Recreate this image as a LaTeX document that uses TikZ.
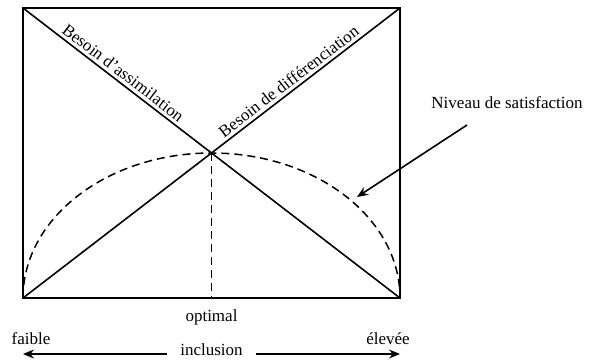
\documentclass[tikz,border=0pt]{standalone}
\usepackage{fontspec}
\setmainfont{Liberation Serif}
\usepackage{tikz}
\usetikzlibrary{arrows.meta,positioning,calc}

\begin{document}
\begin{tikzpicture}[x=1pt,y=1pt,line width=1.6pt,
  txt/.style={font=\fontsize{17}{20}\selectfont,inner sep=1pt},
  arr/.style={-{Stealth[length=11pt,width=9pt]}},
  dsh/.style={dash pattern=on 8pt off 5pt}]
  \useasboundingbox (0,0) rectangle (595,360);
  % corners of the frame
  \coordinate (tl) at (23,352);
  \coordinate (tr) at (400,352);
  \coordinate (bl) at (23,62);
  \coordinate (br) at (400,62);
  \coordinate (opt) at (211.5,207);
  \draw[line width=1.3pt] (bl) rectangle (tr);
  \draw (tl) -- node[txt,sloped,above,inner sep=3pt,pos=0.25] {Besoin d'assimilation} (br);
  \draw (bl) -- node[txt,sloped,above,inner sep=3pt,pos=0.72] {Besoin de différenciation} (tr);
  % satisfaction curve
  \draw[dsh,line width=1.5pt] (bl) arc[start angle=180,end angle=0,x radius=188.5,y radius=145];
  \draw[dsh,line width=1.5pt] (opt) -- (opt |- bl);
  \node[txt] (niv) at (507,257) {Niveau de satisfaction};
  \coordinate (nivfrom) at (467,235);
  \coordinate (nivto) at (357,163);
  \draw[arr] (nivfrom) -- (nivto);
  % axis
  \node[txt] (optimal) at (211.5,43) {optimal};
  \node[txt] (incl) at (211.5,10) {inclusion};
  \node[txt] (faible) at (31,21) {faible};
  \node[txt] (elevee) at (388,21) {élevée};
  \coordinate (lo) at (23,6);
  \coordinate (hi) at (400,6);
  \draw[arr] ([xshift=-12pt]incl.west |- lo) -- (lo);
  \draw[arr] ([xshift=12pt]incl.east |- hi) -- (hi);
\end{tikzpicture}
\end{document}
